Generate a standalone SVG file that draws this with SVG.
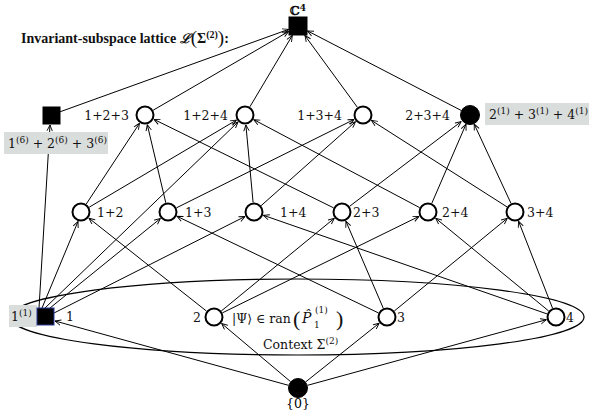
<svg xmlns="http://www.w3.org/2000/svg" width="596" height="413" viewBox="0 0 596 413">
<style>
.e{stroke:#000;stroke-width:1;fill:none;marker-end:url(#ar)}
.oc{fill:#fff;stroke:#000;stroke-width:2}
.fc{fill:#000;stroke:#000;stroke-width:1}
.sq{fill:#000;stroke:#000;stroke-width:1}
.t{font-family:"DejaVu Serif","Liberation Serif",serif;font-size:12.5px;fill:#111}
.bx{fill:#d9dddc}
.ttl{font-family:"Liberation Serif",serif;font-size:14px;font-weight:bold;fill:#111}
</style>
<defs>
<marker id="ar" viewBox="0 0 10 10" refX="9.5" refY="5" markerWidth="7" markerHeight="7" orient="auto" markerUnits="userSpaceOnUse">
<path d="M1,1.2 L9.5,5 L1,8.8" fill="none" stroke="#000" stroke-width="1.3"/>
</marker>
</defs>
<rect width="596" height="413" fill="#fff"/>

<g id="context-ellipse">
<ellipse cx="297" cy="317" rx="287" ry="38" fill="none" stroke="#000" stroke-width="1.2"/>
</g>

<g id="connectors">
<line class="e" x1="288.4" y1="385.3" x2="55" y2="321"/>
<line class="e" x1="290.4" y1="381.5" x2="221.6" y2="323.5"/>
<line class="e" x1="305.8" y1="381.8" x2="379.2" y2="323.2"/>
<line class="e" x1="307.6" y1="385.3" x2="546.4" y2="319.7"/>
<line class="e" x1="39" y1="308" x2="50" y2="125"/>
<line class="e" x1="42" y1="308" x2="78" y2="221.5"/>
<line class="e" x1="45" y1="308" x2="238" y2="122"/>
<line class="e" x1="50" y1="308" x2="160.4" y2="218.5"/>
<line class="e" x1="54" y1="313" x2="245" y2="216.5"/>
<line class="e" x1="206.5" y1="311.1" x2="88.9" y2="218.2"/>
<line class="e" x1="221.3" y1="311" x2="334.3" y2="218.3"/>
<line class="e" x1="222.5" y1="312.8" x2="419" y2="216.4"/>
<line class="e" x1="378.4" y1="312.9" x2="177" y2="216.3"/>
<line class="e" x1="383.3" y1="308.3" x2="345.9" y2="221.2"/>
<line class="e" x1="394.3" y1="311" x2="507.3" y2="218.3"/>
<line class="e" x1="547" y1="313.9" x2="263.4" y2="215.3"/>
<line class="e" x1="548.7" y1="311" x2="435.7" y2="218.3"/>
<line class="e" x1="552.5" y1="308.1" x2="518.6" y2="221.3"/>
<line class="e" x1="86.2" y1="204.1" x2="139.5" y2="123.3"/>
<line class="e" x1="89.2" y1="207.2" x2="236.4" y2="120.1"/>
<line class="e" x1="165.8" y1="202.8" x2="147.3" y2="124.7"/>
<line class="e" x1="176.5" y1="207.8" x2="354" y2="119.5"/>
<line class="e" x1="253.1" y1="202.5" x2="245.9" y2="125"/>
<line class="e" x1="261.1" y1="205.7" x2="355.5" y2="121.7"/>
<line class="e" x1="333.5" y1="207.8" x2="154" y2="119.4"/>
<line class="e" x1="349.6" y1="206.3" x2="461.2" y2="121.6"/>
<line class="e" x1="419.6" y1="207.6" x2="253.8" y2="119.7"/>
<line class="e" x1="431.8" y1="203.3" x2="466" y2="124.2"/>
<line class="e" x1="507" y1="206.9" x2="371.4" y2="120.4"/>
<line class="e" x1="511" y1="203.4" x2="474.2" y2="124.1"/>
<line class="e" x1="153.2" y1="110.2" x2="288.5" y2="31.5"/>
<line class="e" x1="249.9" y1="106.8" x2="292.3" y2="35.5"/>
<line class="e" x1="357.4" y1="107.3" x2="304.9" y2="35.5"/>
<line class="e" x1="461.5" y1="110.6" x2="307.5" y2="30.9"/>
<line class="e" x1="60" y1="111.8" x2="288.5" y2="29.4"/>
</g>

<g id="title">
<text class="ttl" x="21" y="43">Invariant-subspace lattice <tspan font-style="italic" font-family="DejaVu Serif,serif" font-size="13px">ℒ</tspan><tspan font-size="19px" font-weight="normal" dy="1">(</tspan><tspan dy="-1">Σ</tspan><tspan font-size="10px" dy="-5">(2)</tspan><tspan font-size="19px" font-weight="normal" dy="6">)</tspan><tspan dy="-1">:</tspan></text>
</g>

<g id="node-C4">
<rect class="sq" x="289" y="17" width="18" height="18"/>
<text class="t" x="298" y="15" text-anchor="middle" font-weight="bold">ℂ<tspan font-size="9px" dy="-4">4</tspan></text>
</g>

<g id="node-1-6-2-6-3-6">
<rect class="sq" x="43" y="107" width="17" height="17"/>
<rect class="bx" x="4" y="132" width="104" height="22"/>
<text class="t" x="8" y="148">1<tspan font-size="9px" dy="-5">(6)</tspan><tspan dy="5"> + 2</tspan><tspan font-size="9px" dy="-5">(6)</tspan><tspan dy="5"> + 3</tspan><tspan font-size="9px" dy="-5">(6)</tspan></text>
</g>

<g id="node-123">
<circle class="oc" cx="145" cy="115" r="8.5"/>
<text class="t" x="129" y="119.5" text-anchor="end">1+2+3</text>
</g>
<g id="node-124">
<circle class="oc" cx="245" cy="115" r="8.5"/>
<text class="t" x="228" y="119.5" text-anchor="end">1+2+4</text>
</g>
<g id="node-134">
<circle class="oc" cx="363" cy="115" r="8.5"/>
<text class="t" x="342" y="119.5" text-anchor="end">1+3+4</text>
</g>
<g id="node-234">
<circle class="fc" cx="470" cy="115" r="9.5"/>
<text class="t" x="450" y="119.5" text-anchor="end">2+3+4</text>
<rect class="bx" x="485" y="103" width="104" height="22"/>
<text class="t" x="489" y="119">2<tspan font-size="9px" dy="-5">(1)</tspan><tspan dy="5"> + 3</tspan><tspan font-size="9px" dy="-5">(1)</tspan><tspan dy="5"> + 4</tspan><tspan font-size="9px" dy="-5">(1)</tspan></text>
</g>

<g id="node-12">
<circle class="oc" cx="81" cy="212" r="8.5"/>
<text class="t" x="97" y="216.5">1+2</text>
</g>
<g id="node-13">
<circle class="oc" cx="168" cy="212" r="8.5"/>
<text class="t" x="185" y="216.5">1+3</text>
</g>
<g id="node-14">
<circle class="oc" cx="254" cy="212" r="8.5"/>
<text class="t" x="280" y="216.5">1+4</text>
</g>
<g id="node-23">
<circle class="oc" cx="342" cy="212" r="8.5"/>
<text class="t" x="353" y="216.5">2+3</text>
</g>
<g id="node-24">
<circle class="oc" cx="428" cy="212" r="8.5"/>
<text class="t" x="442" y="216.5">2+4</text>
</g>
<g id="node-34">
<circle class="oc" cx="515" cy="212" r="8.5"/>
<text class="t" x="527" y="216.5">3+4</text>
</g>

<g id="node-1">
<rect class="bx" x="9" y="305" width="28" height="22"/>
<text class="t" x="11" y="321">1<tspan font-size="9px" dy="-5">(1)</tspan></text>
<rect x="37" y="308" width="17" height="17" fill="#000" stroke="#2b3a99" stroke-width="1"/>
<text class="t" x="66" y="321">1</text>
</g>
<g id="node-2">
<circle class="oc" cx="214" cy="317" r="8.5"/>
<text class="t" x="201" y="321.5" text-anchor="end">2</text>
</g>
<g id="node-3">
<circle class="oc" cx="387" cy="317" r="8.5"/>
<text class="t" x="397" y="321.5">3</text>
</g>
<g id="node-4">
<circle class="oc" cx="556" cy="317" r="8.5"/>
<text class="t" x="566" y="321.5">4</text>
</g>

<g id="node-0">
<circle class="fc" cx="298" cy="388" r="9.5"/>
<text class="t" x="298" y="408" text-anchor="middle" style="fill:#000">{0}</text>
</g>

<g id="context-labels">
<text class="t" x="232" y="322.5">|Ψ⟩ ∈ ran</text>
<text class="t" x="293" y="326" style="font-size:22px;font-family:'Liberation Serif',serif">(</text>
<text class="t" x="302" y="322.5" style="font-size:14px;font-style:italic">P̂</text>
<text class="t" x="314" y="327.5" style="font-size:9px">1</text>
<text class="t" x="315" y="312.5" style="font-size:9px">(1)</text>
<text class="t" x="336" y="326" style="font-size:22px;font-family:'Liberation Serif',serif">)</text>
<text class="t" x="263" y="349">Context Σ<tspan font-size="9px" dy="-5">(2)</tspan></text>
</g>
</svg>
